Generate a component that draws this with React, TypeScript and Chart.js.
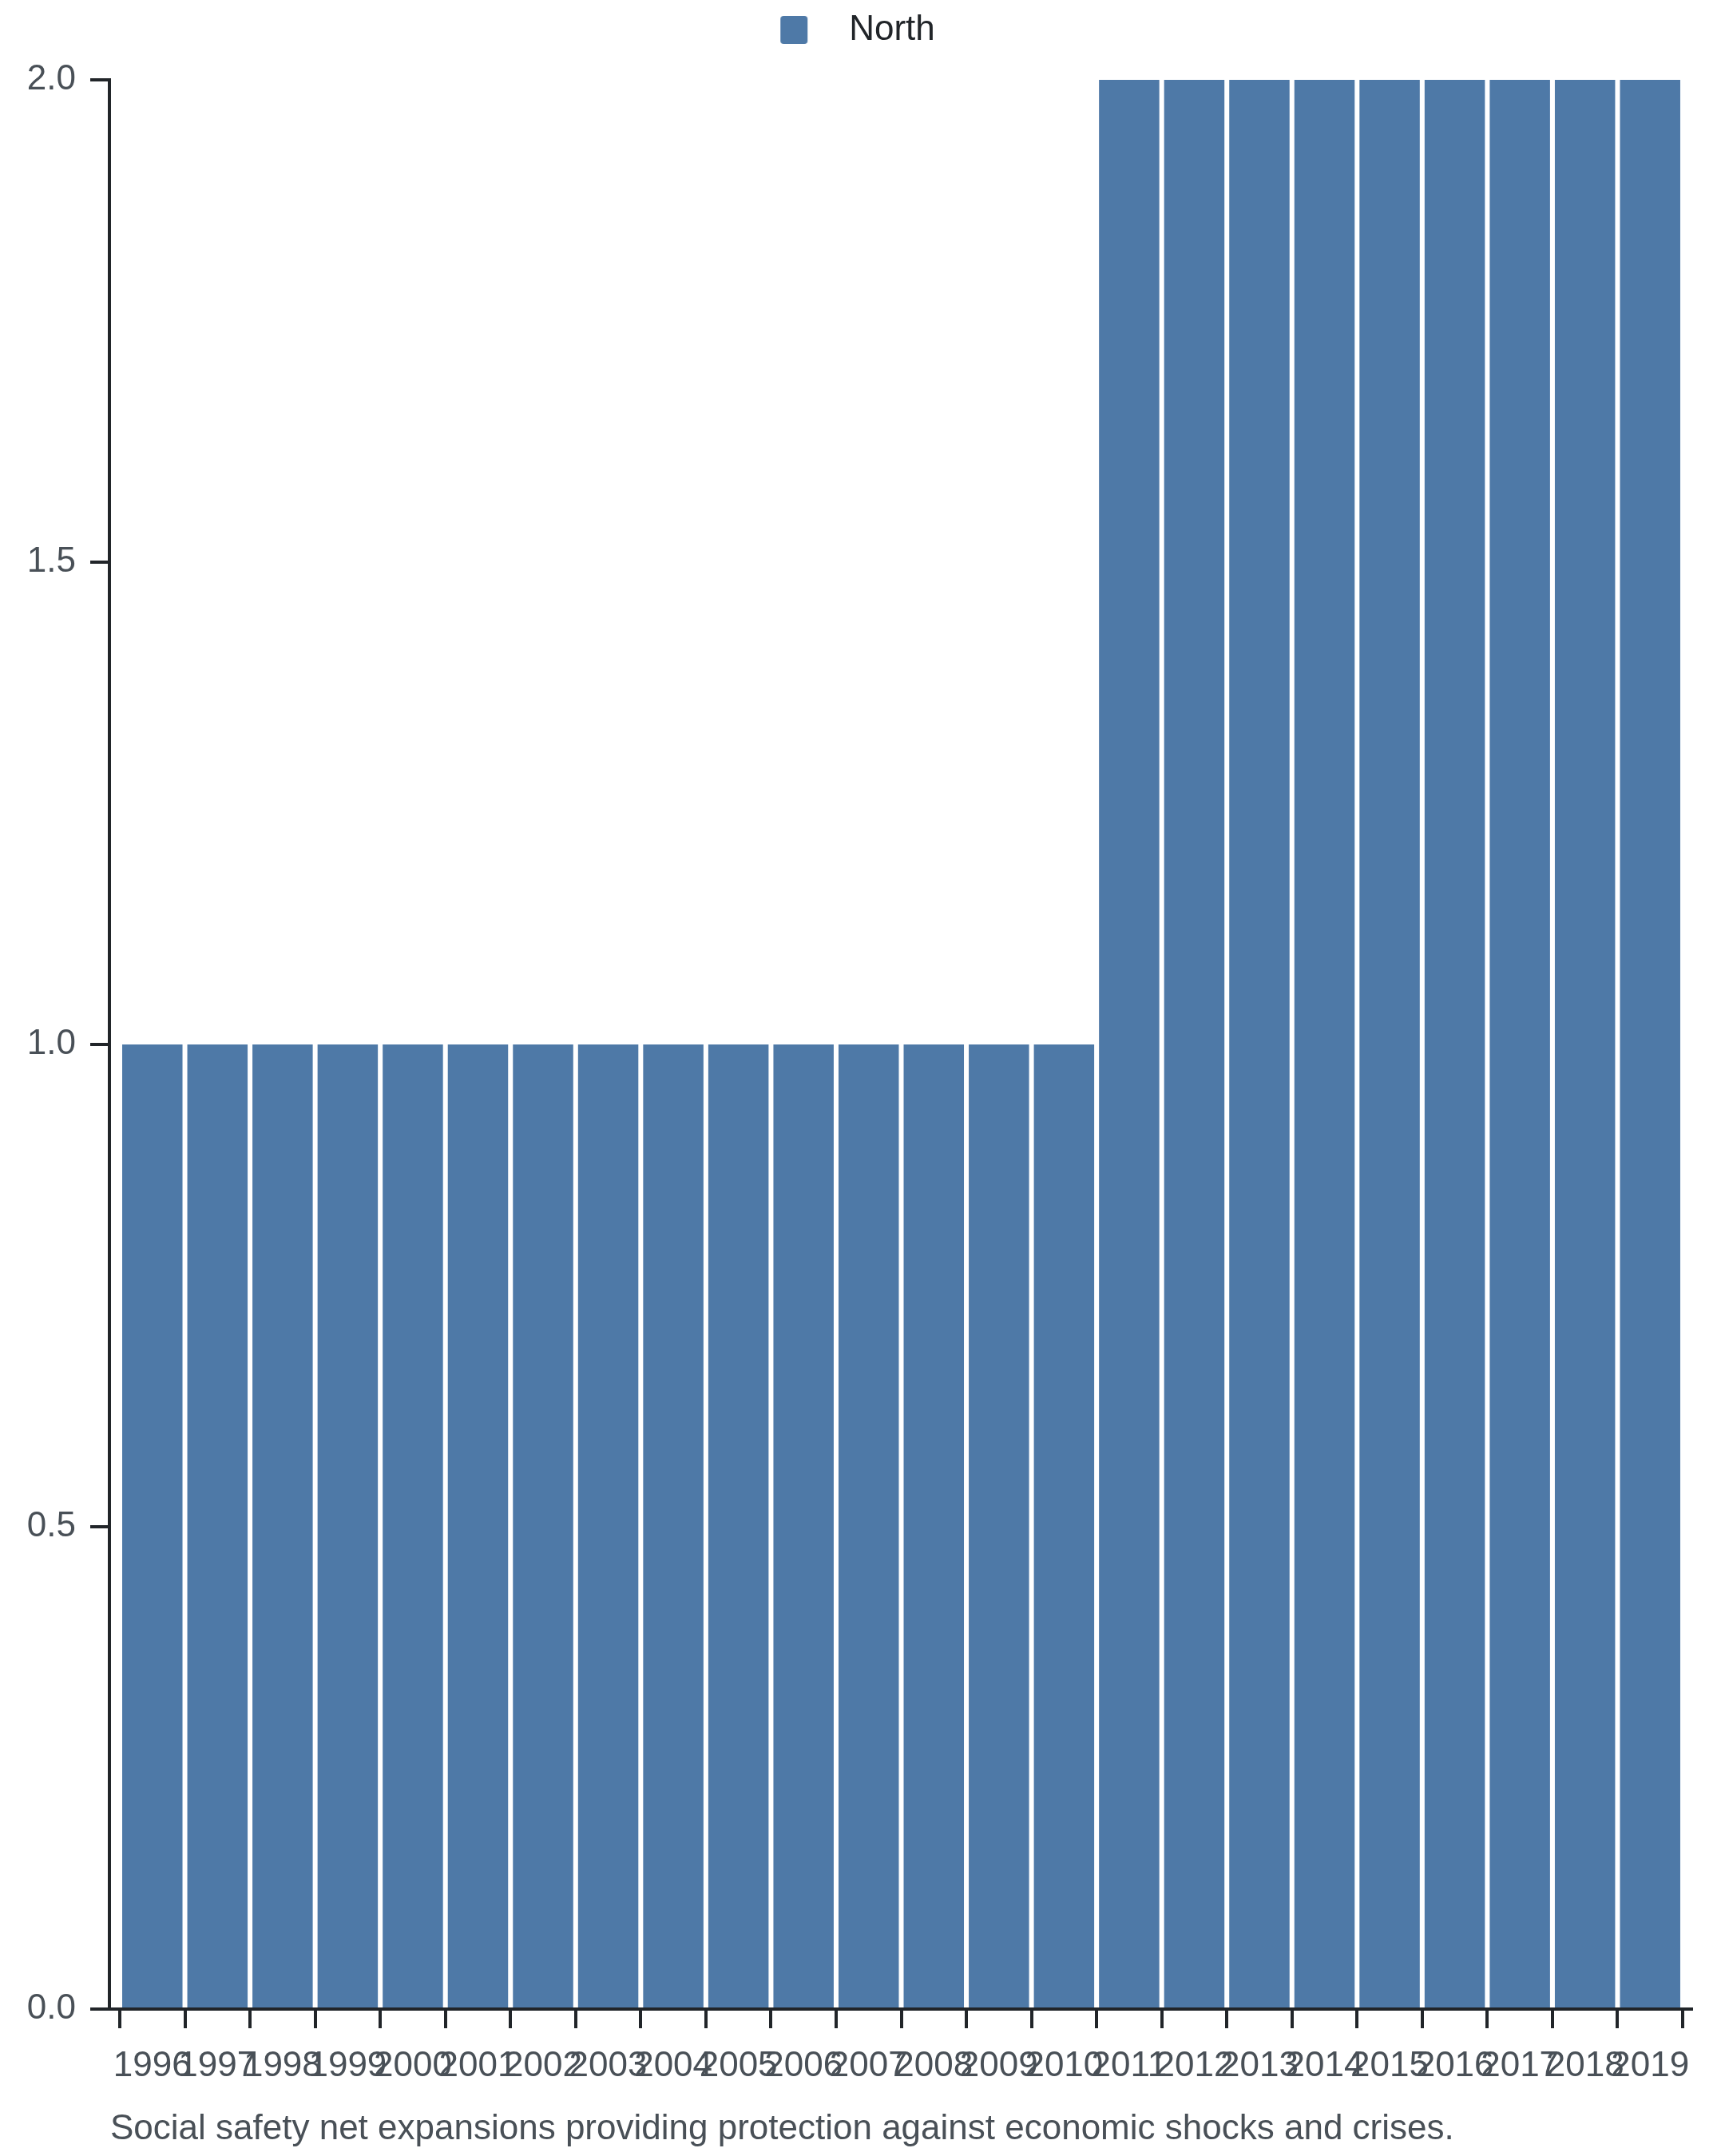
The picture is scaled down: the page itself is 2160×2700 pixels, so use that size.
import React, { useEffect, useRef } from 'react';
import { Chart, registerables } from 'chart.js';

Chart.register(...registerables);

const years = [
  '1996', '1997', '1998', '1999', '2000', '2001', '2002', '2003',
  '2004', '2005', '2006', '2007', '2008', '2009', '2010', '2011',
  '2012', '2013', '2014', '2015', '2016', '2017', '2018', '2019',
];
const northValues = [
  1, 1, 1, 1, 1, 1, 1, 1,
  1, 1, 1, 1, 1, 1, 1, 2,
  2, 2, 2, 2, 2, 2, 2, 2,
];
const yTickValues = [0, 0.5, 1.0, 1.5, 2.0];
const seriesLabel = 'North';
const caption = 'Social safety net expansions providing protection against economic shocks and crises.';

const BAR_COLOR = '#4e79a7';
const AXIS_COLOR = '#212529';
const LABEL_COLOR = '#495057';
const FONT = "'Liberation Sans', Arial, Helvetica, sans-serif";
const AXIS_WIDTH = 4;

const axesPlugin = {
  id: 'customAxes',
  afterDraw(chart: any) {
    const { ctx, chartArea, scales } = chart;
    const x = scales.x;
    const y = scales.y;
    const half = AXIS_WIDTH / 2;
    const axisX = Math.round(chartArea.left - 13);
    const yTop = Math.round(y.getPixelForValue(y.max));
    const y0 = Math.round(y.getPixelForValue(0));
    ctx.save();
    ctx.strokeStyle = AXIS_COLOR;
    ctx.lineWidth = AXIS_WIDTH;
    ctx.lineCap = 'butt';
    ctx.beginPath();
    ctx.moveTo(axisX, yTop - half);
    ctx.lineTo(axisX, y0);
    y.ticks.forEach((t: any) => {
      const py = Math.round(y.getPixelForValue(t.value));
      ctx.moveTo(axisX - 24, py);
      ctx.lineTo(axisX + half, py);
    });
    ctx.moveTo(axisX - 24, y0);
    ctx.lineTo(x.right + 13, y0);
    ctx.stroke();
    ctx.restore();
  },
};

export default function App() {
  const canvasRef = useRef<HTMLCanvasElement | null>(null);

  useEffect(() => {
    if (!canvasRef.current) return;
    const swatch = document.createElement('canvas');
    swatch.width = 75;
    swatch.height = 35;
    const sctx = swatch.getContext('2d');
    if (sctx) {
      sctx.fillStyle = BAR_COLOR;
      sctx.beginPath();
      if ((sctx as any).roundRect) (sctx as any).roundRect(11, 0, 34, 35, 4);
      else sctx.rect(11, 0, 34, 35);
      sctx.fill();
    }

    const chart = new Chart(canvasRef.current, {
      type: 'bar',
      data: {
        labels: years,
        datasets: [
          {
            label: seriesLabel,
            data: northValues,
            backgroundColor: BAR_COLOR,
            borderWidth: 0,
            barPercentage: 0.926,
            categoryPercentage: 1,
          },
        ],
      },
      options: {
        animation: false,
        responsive: true,
        maintainAspectRatio: false,
        events: [],
        layout: { padding: { top: 0, left: 30, right: 53, bottom: 0 } },
        plugins: {
          legend: {
            position: 'top',
            align: 'center',
            labels: {
              usePointStyle: true,
              pointStyle: swatch as any,
              pointStyleWidth: 75,
              boxHeight: 35,
              padding: 15.5,
              color: AXIS_COLOR,
              font: { family: FONT, size: 44 },
            },
          },
          subtitle: {
            display: true,
            text: '',
            position: 'top',
            weight: 500,
            font: { family: FONT, size: 10, lineHeight: 1 },
            padding: { top: 20.5, bottom: 0 },
          },
          tooltip: { enabled: false },
          title: { display: false },
        },
        scales: {
          x: {
            offset: true,
            grid: {
              display: true,
              drawOnChartArea: false,
              drawTicks: true,
              tickLength: 24,
              lineWidth: AXIS_WIDTH,
              color: AXIS_COLOR,
              offset: true,
            },
            border: { display: false },
            ticks: {
              autoSkip: false,
              maxRotation: 0,
              minRotation: 0,
              padding: 21,
              color: LABEL_COLOR,
              font: { family: FONT, size: 44 },
            },
            afterFit: (s: any) => {
              s.height = 184;
            },
          },
          y: {
            min: 0,
            max: 2,
            grid: { display: false, drawTicks: false },
            border: { display: false },
            afterBuildTicks: (s: any) => {
              s.ticks = yTickValues.map((v) => ({ value: v }));
            },
            ticks: {
              padding: 55,
              color: LABEL_COLOR,
              font: { family: FONT, size: 44 },
              callback: (v: any) => Number(v).toFixed(1),
            },
            afterFit: (s: any) => {
              s.width = 120;
            },
          },
        },
      },
      plugins: [axesPlugin],
    } as any);

    return () => {
      chart.destroy();
    };
  }, []);

  return (
    <div style={{ position: 'absolute', left: 0, top: 0, width: 2160, height: 2700, background: '#ffffff' }}>
      <canvas ref={canvasRef} />
      <div
        style={{
          position: 'absolute',
          left: 138,
          top: 2642,
          fontFamily: FONT,
          fontSize: 44,
          lineHeight: '44px',
          color: LABEL_COLOR,
          whiteSpace: 'nowrap',
        }}
      >
        {caption}
      </div>
    </div>
  );
}
